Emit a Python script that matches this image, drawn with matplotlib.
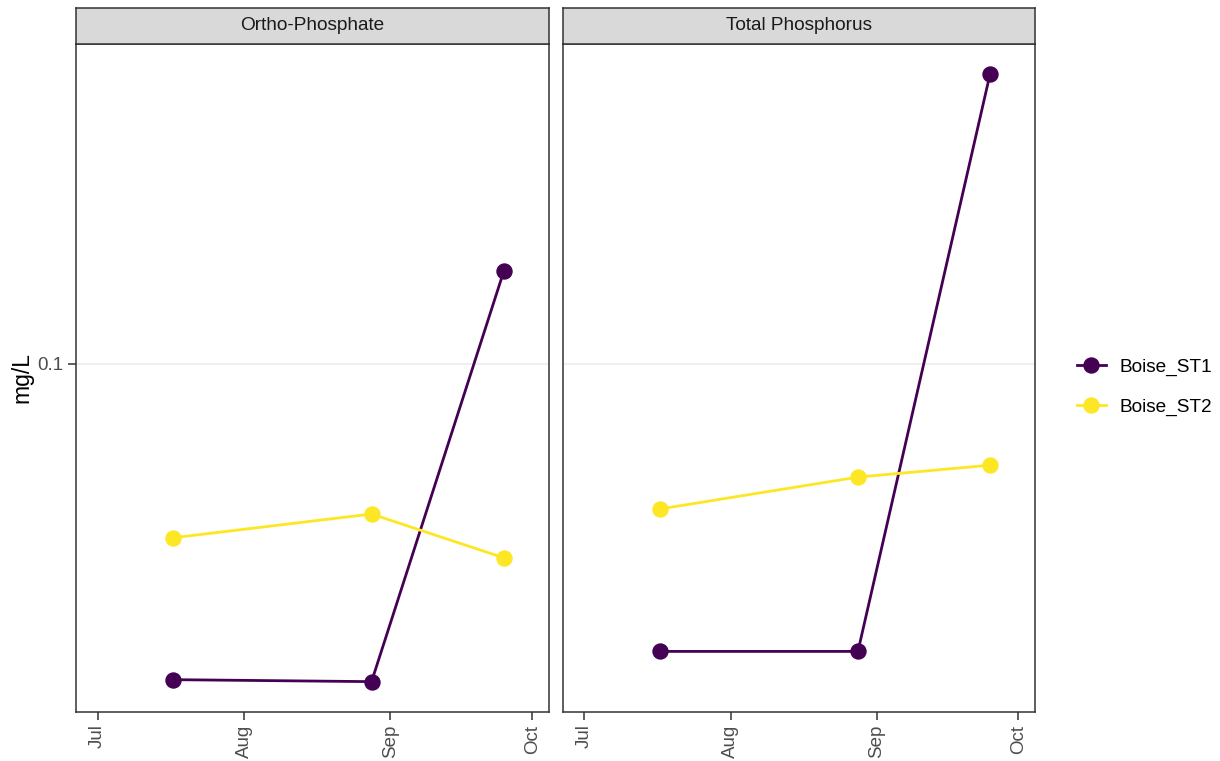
import datetime as dt

import matplotlib
matplotlib.use("Agg")
import matplotlib.pyplot as plt
import matplotlib.dates as mdates
from matplotlib.lines import Line2D
import numpy as np


plt.rcParams['font.family'] = ['Liberation Sans', 'DejaVu Sans']

# sample dates shared by both sites
dates = [dt.date(2019, 7, 17), dt.date(2019, 8, 28), dt.date(2019, 9, 25)]

parameters = ["Ortho-Phosphate", "Total Phosphorus"]
sites = ["Boise_ST1", "Boise_ST2"]

# mg/L, one list per site for each parameter
ortho_st1 = [0.0201, 0.0199, 0.160]
ortho_st2 = [0.0413, 0.0466, 0.0373]
tp_st1 = [0.0232, 0.0232, 0.434]
tp_st2 = [0.0478, 0.0562, 0.0597]

values = {
    "Ortho-Phosphate": [ortho_st1, ortho_st2],
    "Total Phosphorus": [tp_st1, tp_st2],
}

site_colors = ["#440154", "#FDE725"]

month_ticks = [dt.date(2019, 7, 1), dt.date(2019, 8, 1), dt.date(2019, 9, 1), dt.date(2019, 10, 1)]
x_limits = (dt.date(2019, 7, 1), dt.date(2019, 9, 30))

W, H = 1220, 761
fig = plt.figure(figsize=(W / 100, H / 100), dpi=100)


def px_box(x0, y0, x1, y1):
    return [x0 / W, 1 - y1 / H, (x1 - x0) / W, (y1 - y0) / H]


panel_boxes = [(76, 44, 549, 712), (563, 44, 1035, 712)]

# shared y range: log scale with 5% expansion
all_vals = np.concatenate([np.ravel(v) for v in values.values()])
lo, hi = np.log10(all_vals.min()), np.log10(all_vals.max())
pad = (hi - lo) * 0.05
ylim = (10 ** (lo - pad), 10 ** (hi + pad))

xl0 = mdates.date2num(x_limits[0])
xl1 = mdates.date2num(x_limits[1])
xpad = (xl1 - xl0) * 0.05

border = "#333333"
text_col = "#4D4D4D"

axes = []
for i, param in enumerate(parameters):
    x0, y0, x1, y1 = panel_boxes[i]
    ax = fig.add_axes(px_box(x0, y0, x1, y1))
    axes.append(ax)

    for s, series in enumerate(values[param]):
        ax.plot(dates, series, color=site_colors[s], lw=2.0, zorder=3)
    for s, series in enumerate(values[param]):
        ax.plot(dates, series, ls="none", marker="o", ms=10.8,
                color=site_colors[s], zorder=4)

    ax.set_yscale("log")
    ax.set_ylim(*ylim)
    ax.set_xlim(xl0 - xpad, xl1 + xpad)
    ax.yaxis.set_major_locator(matplotlib.ticker.FixedLocator([0.1]))
    ax.yaxis.set_minor_locator(matplotlib.ticker.NullLocator())
    ax.yaxis.set_major_formatter(matplotlib.ticker.FixedFormatter(["0.1"]))
    ax.grid(axis="y", color="#EBEBEB", lw=1.1, zorder=0)
    ax.set_axisbelow(True)

    ax.set_xticks(month_ticks)
    ax.xaxis.set_major_formatter(mdates.DateFormatter("%b"))
    ax.tick_params(axis="x", labelrotation=90, length=6, width=1.1,
                   color=border, labelcolor=text_col, labelsize=13.5, pad=3)
    ax.tick_params(axis="y", length=6, width=1.1, color=border,
                   labelcolor=text_col, labelsize=13.5, pad=3)
    if i > 0:
        ax.tick_params(axis="y", left=False, labelleft=False)

    for sp in ax.spines.values():
        sp.set_color(border)
        sp.set_linewidth(1.1)

    # facet strip
    sax = fig.add_axes(px_box(x0, 8, x1, 44))
    sax.set_facecolor("#D9D9D9")
    sax.set_xticks([])
    sax.set_yticks([])
    for sp in sax.spines.values():
        sp.set_color(border)
        sp.set_linewidth(1.1)
    sax.text(0.5, 0.5, param, transform=sax.transAxes, ha="center",
             va="center", fontsize=13.7, color="#1A1A1A")

axes[0].set_ylabel("mg/L", fontsize=16.5, color="black", labelpad=3)

handles = [Line2D([], [], color=c, lw=2.0, marker="o", ms=10.8) for c in site_colors]
fig.legend(handles, sites, loc="center left",
           bbox_to_anchor=(1060 / W, 1 - 387 / H), frameon=False,
           fontsize=13.7, handlelength=1.5, labelspacing=1.2,
           handletextpad=0.75)

fig.savefig("out.png", dpi=100)
